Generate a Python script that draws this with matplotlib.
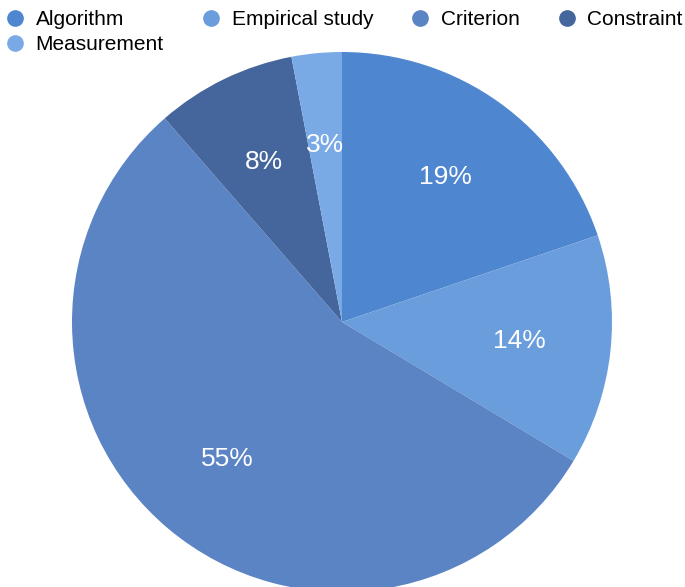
import matplotlib
matplotlib.use("Agg")
import matplotlib.pyplot as plt
from matplotlib.lines import Line2D

plt.rcParams['font.family'] = ['Liberation Sans', 'DejaVu Sans']

categories = ["Algorithm", "Empirical study", "Criterion", "Constraint", "Measurement"]
shares = [19.8, 13.8, 55.0, 8.4, 3.0]
pct_labels = ["19%", "14%", "55%", "8%", "3%"]
colors = ["#4f86d0", "#6a9ddc", "#5b84c5", "#45669c", "#7aaae6"]

W, H = 685, 587
fig = plt.figure(figsize=(W / 100, H / 100), dpi=100)
ax = fig.add_axes([0, 0, 1, 1])

wedges, texts = ax.pie(shares, colors=colors, startangle=90, counterclock=False,
                       labels=pct_labels, labeldistance=0.66,
                       wedgeprops=dict(linewidth=0),
                       textprops=dict(color="white", fontsize=19, ha="center", va="center"))

# place pie: center at pixel (342, 322 from top), radius 270 px
R = 270.0
cx, cy = 342.0, H - 322.0
ax.set_xlim(-cx / R, (W - cx) / R)
ax.set_ylim(-cy / R, (H - cy) / R)
ax.set_aspect('equal')
ax.axis('off')

handles = [Line2D([0], [0], marker='o', linestyle='none', markersize=11,
                  markerfacecolor=c, markeredgecolor=c) for c in colors]
# legend fills column-major; order so rows read Algorithm, Empirical, Criterion, Constraint / Measurement
order = [0, 4, 1, 2, 3]
fig.legend([handles[i] for i in order], [categories[i] for i in order],
           loc='upper left', bbox_to_anchor=(0.005, 0.99),
           ncol=4, frameon=False, fontsize=15, handlelength=0.7,
           handletextpad=0.65, columnspacing=1.9, labelspacing=0.3,
           borderaxespad=0.0, borderpad=0.2)

fig.savefig("out.png", dpi=100)
